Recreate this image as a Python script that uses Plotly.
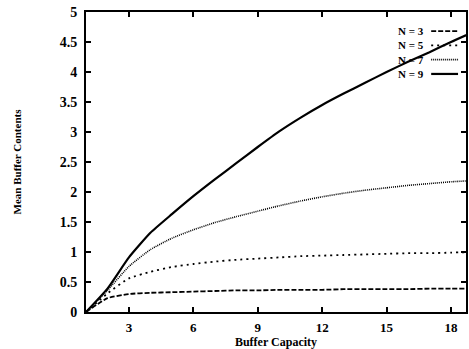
import plotly.graph_objects as go

capacity = list(range(1, 20))
n3 = [0, 0.23, 0.30, 0.32, 0.33, 0.34, 0.35, 0.36, 0.36, 0.37, 0.37, 0.37, 0.38, 0.38, 0.38, 0.38, 0.39, 0.39, 0.39]
n5 = [0, 0.31, 0.56, 0.67, 0.75, 0.80, 0.84, 0.87, 0.89, 0.91, 0.93, 0.94, 0.95, 0.96, 0.97, 0.98, 0.98, 0.99, 1.00]
n7 = [0, 0.36, 0.76, 1.04, 1.23, 1.37, 1.49, 1.59, 1.68, 1.77, 1.85, 1.92, 1.98, 2.03, 2.07, 2.11, 2.14, 2.17, 2.19]
n9 = [0, 0.39, 0.91, 1.32, 1.63, 1.93, 2.21, 2.48, 2.75, 3.01, 3.24, 3.45, 3.64, 3.82, 4.00, 4.17, 4.33, 4.50, 4.66]

series_names = ["N = 3", "N = 5", "N = 7", "N = 9"]
series_values = [n3, n5, n7, n9]
dashes = ["5px,2px", "2px,4px", "1px,1px", "solid"]
widths = [1.8, 1.8, 1.6, 2.2]

x_ticks = [3, 6, 9, 12, 15, 18]
y_ticks = [0, 0.5, 1, 1.5, 2, 2.5, 3, 3.5, 4, 4.5, 5]
y_tick_labels = ["0", "0.5", "1", "1.5", "2", "2.5", "3", "3.5", "4", "4.5", "5"]

FONT = "Liberation Serif"

fig = go.Figure()
for name, vals, d, w in zip(series_names, series_values, dashes, widths):
    fig.add_trace(go.Scatter(x=capacity, y=vals, mode="lines", name=name,
                             line=dict(color="black", dash=d, width=w,
                                       shape="spline", smoothing=0.5),
                             showlegend=False))

# Legend drawn as one multi-line text (left) with line samples (right), like the original
W, H = 382.0, 300.0
LEG_SIZE = 11
line_h = 1.3 * LEG_SIZE
center_py = 52.5
n = len(series_names)
fig.add_annotation(x=(427 - 86) / W, y=(312 - center_py) / H, xref="paper", yref="paper",
                   text="<br>".join("<b>" + s + "</b>" for s in series_names),
                   showarrow=False, xanchor="right", yanchor="middle", align="right",
                   borderpad=0,
                   font=dict(family=FONT, size=LEG_SIZE, color="black"))
for i, (d, w) in enumerate(zip(dashes, widths)):
    py = center_py + (i - (n - 1) / 2) * line_h
    yp = (312 - py) / H
    fig.add_shape(type="line", xref="paper", yref="paper",
                  x0=(433 - 86) / W, x1=(460 - 86) / W, y0=yp, y1=yp,
                  line=dict(color="black", dash=d, width=w))

fig.update_layout(
    width=469, height=349,
    margin=dict(l=86, r=1, t=12, b=37),
    paper_bgcolor="white", plot_bgcolor="white",
    font=dict(family=FONT, color="black"),
    xaxis=dict(range=[1, 18.7], tickvals=x_ticks,
               ticktext=["<b>%d</b>" % t for t in x_ticks],
               ticks="inside", ticklen=5,
               tickwidth=1.5, tickcolor="black", showline=True, linecolor="black",
               linewidth=2, mirror="ticks", showgrid=False, zeroline=False,
               tickfont=dict(family=FONT, size=13, color="black"),
               ticklabelstandoff=2,
               title=dict(text="<b>Buffer Capacity</b>", standoff=0,
                          font=dict(family=FONT, size=12, color="black"))),
    yaxis=dict(range=[0, 5], tickvals=y_ticks, ticktext=["<b>%s</b>" % t for t in y_tick_labels],
               ticks="inside", ticklen=5, tickwidth=1.5, tickcolor="black",
               showline=True, linecolor="black", linewidth=2, mirror="ticks",
               showgrid=False, zeroline=False,
               tickfont=dict(family=FONT, size=14, color="black"),
               ticklabelstandoff=4,
               title=dict(text="<b>Mean Buffer Contents</b>", standoff=36,
                          font=dict(family=FONT, size=11, color="black"))),
)

fig.write_html("out.html")
